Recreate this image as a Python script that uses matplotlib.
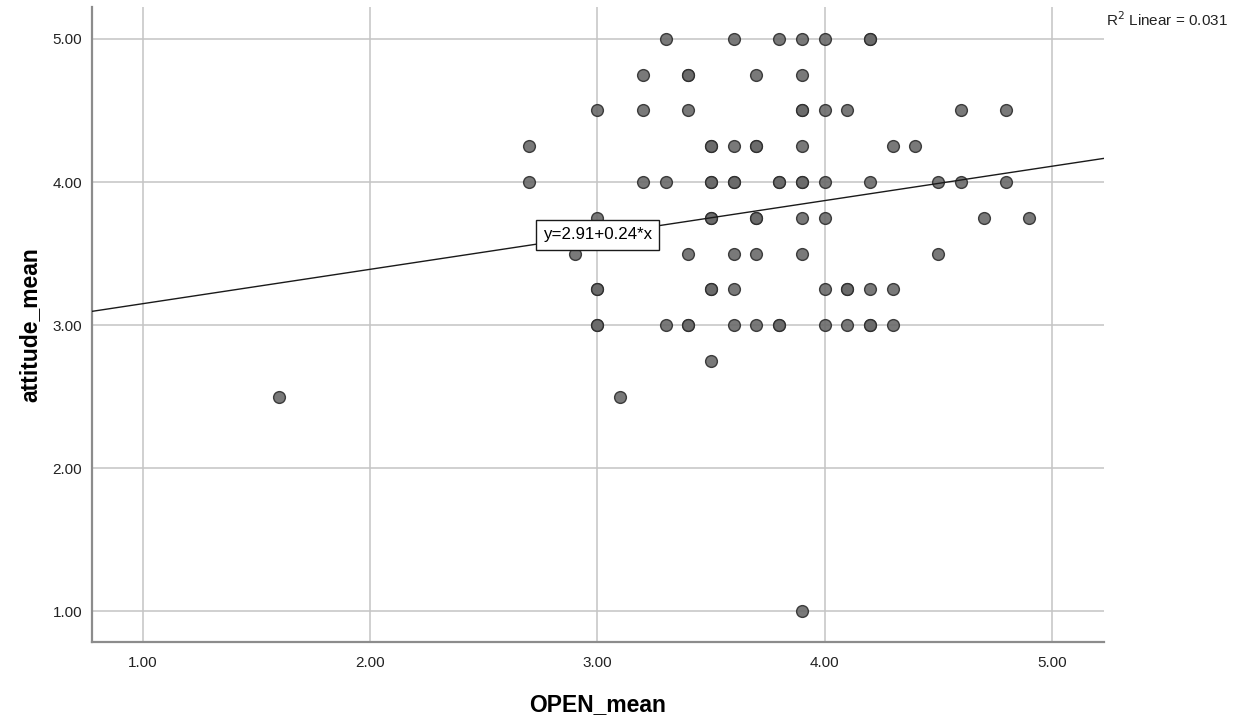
import matplotlib
matplotlib.use('Agg')
import numpy as np
import matplotlib.pyplot as plt

plt.rcParams['font.family'] = ['Liberation Sans', 'DejaVu Sans']

# OPEN_mean / attitude_mean pairs, grouped by attitude level
open_mean = [
    3.3, 3.6, 3.8, 3.9, 4.0, 4.2, 4.2,
    3.2, 3.4, 3.4, 3.7, 3.9,
    3.0, 3.2, 3.4, 3.9, 3.9, 4.0, 4.1, 4.6, 4.8,
    2.7, 3.5, 3.5, 3.6, 3.7, 3.7, 3.9, 4.3, 4.4,
    2.7, 3.2, 3.3, 3.5, 3.5, 3.6, 3.6, 3.8, 3.8, 3.9, 3.9, 4.0, 4.2, 4.5, 4.6, 4.8,
    3.0, 3.5, 3.5, 3.7, 3.7, 3.9, 4.0, 4.7, 4.9,
    2.9, 3.4, 3.6, 3.7, 3.9, 4.5,
    3.0, 3.0, 3.5, 3.5, 3.6, 4.0, 4.1, 4.1, 4.2, 4.3,
    3.0, 3.0, 3.3, 3.4, 3.4, 3.6, 3.7, 3.8, 3.8, 4.0, 4.1, 4.2, 4.2, 4.3,
    3.5,
    1.6, 3.1,
    3.9,
]
attitude_mean = [
    5.0, 5.0, 5.0, 5.0, 5.0, 5.0, 5.0,
    4.75, 4.75, 4.75, 4.75, 4.75,
    4.5, 4.5, 4.5, 4.5, 4.5, 4.5, 4.5, 4.5, 4.5,
    4.25, 4.25, 4.25, 4.25, 4.25, 4.25, 4.25, 4.25, 4.25,
    4.0, 4.0, 4.0, 4.0, 4.0, 4.0, 4.0, 4.0, 4.0, 4.0, 4.0, 4.0, 4.0, 4.0, 4.0, 4.0,
    3.75, 3.75, 3.75, 3.75, 3.75, 3.75, 3.75, 3.75, 3.75,
    3.5, 3.5, 3.5, 3.5, 3.5, 3.5,
    3.25, 3.25, 3.25, 3.25, 3.25, 3.25, 3.25, 3.25, 3.25, 3.25,
    3.0, 3.0, 3.0, 3.0, 3.0, 3.0, 3.0, 3.0, 3.0, 3.0, 3.0, 3.0, 3.0, 3.0,
    2.75,
    2.5, 2.5,
    1.0,
]

# fitted line reported in the output
intercept = 2.91
slope = 0.24
r_squared = 0.031

x_ticks = [1.0, 2.0, 3.0, 4.0, 5.0]
y_ticks = [1.0, 2.0, 3.0, 4.0, 5.0]

fig = plt.figure(figsize=(12.42, 7.23), dpi=100)
ax = fig.add_axes([0.0741, 0.1120, 0.8148, 0.8787])

xlim = (0.775, 5.23)
ylim = (0.785, 5.225)
ax.set_xlim(*xlim)
ax.set_ylim(*ylim)

ax.set_xticks(x_ticks)
ax.set_yticks(y_ticks)
ax.set_xticklabels(["%.2f" % v for v in x_ticks])
ax.set_yticklabels(["%.2f" % v for v in y_ticks])
ax.grid(True, color='#c4c4c4', linewidth=1.1)
ax.set_axisbelow(True)

for side in ['top', 'right']:
    ax.spines[side].set_visible(False)
for side in ['left', 'bottom']:
    ax.spines[side].set_color('#8c8c8c')
    ax.spines[side].set_linewidth(1.6)
ax.tick_params(axis='both', length=0, labelsize=11, colors='#222222')
ax.tick_params(axis='x', pad=10)
ax.tick_params(axis='y', pad=7)

ax.scatter(open_mean, attitude_mean, s=72, facecolor='#6a6a6a', edgecolor='#2e2e2e',
           linewidths=1.0, alpha=0.9, zorder=3)

xs = np.array(xlim)
ax.plot(xs, intercept + slope * xs, color='#1a1a1a', linewidth=1.0, zorder=4)

ax.text(3.0, intercept + slope * 3.0, "y=%.2f+%.2f*x" % (intercept, slope),
        ha='center', va='center', fontsize=12.2, zorder=5,
        bbox=dict(boxstyle='square,pad=0.42', facecolor='white', edgecolor='#1a1a1a', linewidth=1.0))

fig.text(1106 / 1242.0, 1 - 20 / 723.0, "R$^2$ Linear = 0.031", ha='left', va='center',
         fontsize=11, color='#222222')

ax.set_xlabel("OPEN_mean", fontsize=16.5, fontweight='bold', labelpad=17)
ax.set_ylabel("attitude_mean", fontsize=16.5, fontweight='bold', labelpad=8)

fig.savefig("out.png", dpi=100)
